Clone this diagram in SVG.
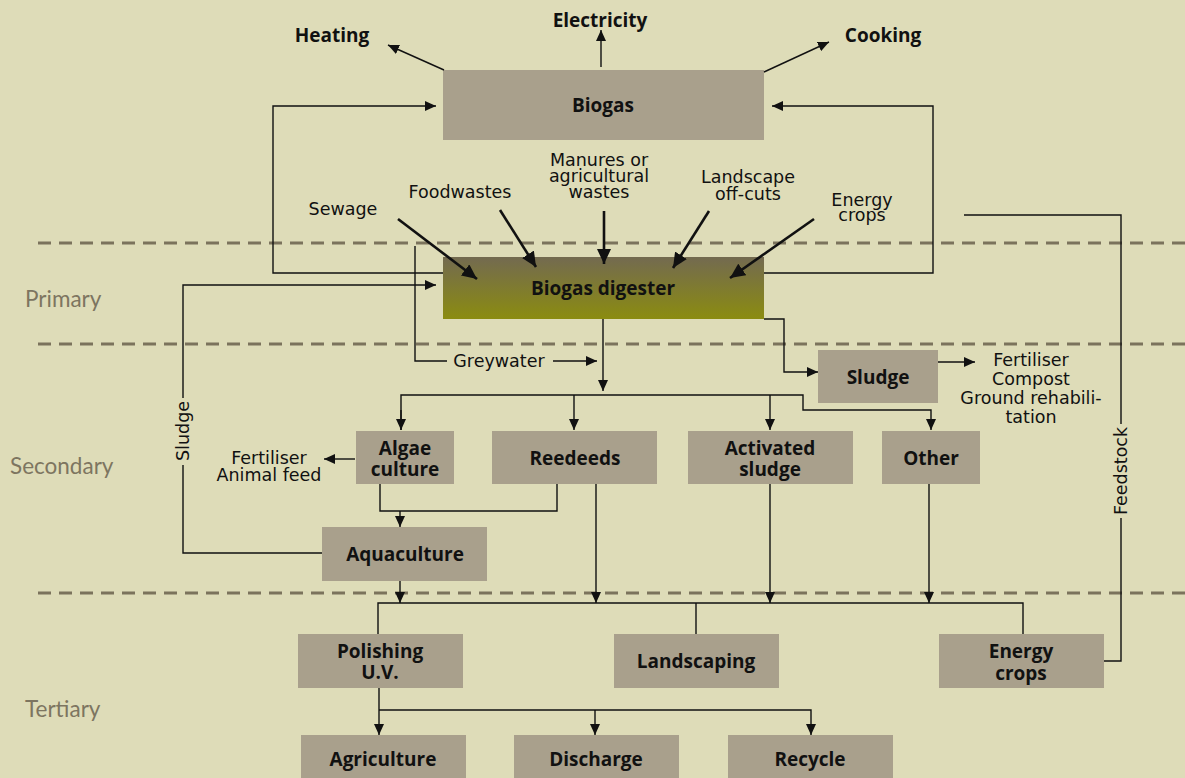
<svg xmlns="http://www.w3.org/2000/svg" width="1185" height="778" viewBox="0 0 1185 778">
<defs>
<style>
.bg{fill:#dedcb8}
.box{fill:#a9a08c}
.dash{stroke:#7b735c;stroke-width:3;stroke-dasharray:13 8;fill:none}
.ln{stroke:#111;stroke-width:1.4;fill:none}
.thick{stroke:#111;stroke-width:2.6;fill:none}
.bl{font-family:"Open Sans","DejaVu Sans",sans-serif;font-weight:bold;font-size:19px;fill:#111;text-anchor:middle}
.nl{font-family:"DejaVu Sans","Open Sans",sans-serif;font-size:17.5px;fill:#111;text-anchor:middle}
.zone{font-family:Lato,"Liberation Sans",sans-serif;font-size:22.5px;fill:#7d7560}
</style>
<linearGradient id="dig" x1="0" y1="0" x2="0" y2="1">
<stop offset="0" stop-color="#736a50"/>
<stop offset="1" stop-color="#8b8c10"/>
</linearGradient>
<marker id="ah" markerUnits="userSpaceOnUse" markerWidth="12" markerHeight="10" refX="11" refY="5" orient="auto">
<path d="M0,0 L11,5 L0,10 z" fill="#111"/>
</marker>
<marker id="ahb" markerUnits="userSpaceOnUse" markerWidth="16" markerHeight="14" refX="15" refY="7" orient="auto">
<path d="M0,0 L15,7 L0,14 z" fill="#111"/>
</marker>
</defs>
<rect class="bg" x="0" y="0" width="1185" height="778"/>

<g id="zones">
<path class="dash" d="M38,243 H1185 M38,344 H1185 M38,593 H1185"/>
<text class="zone" x="25" y="307">Primary</text>
<text class="zone" x="10" y="474">Secondary</text>
<text class="zone" x="25" y="717">Tertiary</text>
</g>

<g id="biogas"><rect class="box" x="443" y="70" width="321" height="70"/><text class="bl" x="603" y="112">Biogas</text></g>
<g id="digester"><rect x="443" y="257" width="321" height="62" fill="url(#dig)"/><text class="bl" x="603" y="295">Biogas digester</text></g>
<g id="sludge"><rect class="box" x="818" y="350" width="120" height="53"/><text class="bl" x="878" y="384">Sludge</text></g>
<g id="algae"><rect class="box" x="356" y="431" width="98" height="53"/><text class="bl" x="405" y="455">Algae</text><text class="bl" x="405" y="476">culture</text></g>
<g id="reedeeds"><rect class="box" x="492" y="431" width="165" height="53"/><text class="bl" x="575" y="465">Reedeeds</text></g>
<g id="activated"><rect class="box" x="688" y="431" width="165" height="53"/><text class="bl" x="770" y="455">Activated</text><text class="bl" x="770" y="476">sludge</text></g>
<g id="other"><rect class="box" x="882" y="431" width="98" height="53"/><text class="bl" x="931" y="465">Other</text></g>
<g id="aquaculture"><rect class="box" x="322" y="527" width="165" height="54"/><text class="bl" x="405" y="561">Aquaculture</text></g>
<g id="polishing"><rect class="box" x="298" y="634" width="165" height="54"/><text class="bl" x="380" y="658">Polishing</text><text class="bl" x="380" y="679">U.V.</text></g>
<g id="landscaping"><rect class="box" x="614" y="634" width="165" height="54"/><text class="bl" x="696" y="668">Landscaping</text></g>
<g id="energycrops"><rect class="box" x="939" y="634" width="165" height="54"/><text class="bl" x="1021" y="658">Energy</text><text class="bl" x="1021" y="680">crops</text></g>
<g id="agriculture"><rect class="box" x="301" y="735" width="165" height="50"/><text class="bl" x="383" y="766">Agriculture</text></g>
<g id="discharge"><rect class="box" x="514" y="735" width="165" height="50"/><text class="bl" x="596" y="766">Discharge</text></g>
<g id="recycle"><rect class="box" x="728" y="735" width="165" height="50"/><text class="bl" x="810" y="766">Recycle</text></g>

<g id="connectors">
<!-- biogas outputs -->
<line class="ln" x1="444" y1="70" x2="388" y2="45" marker-end="url(#ah)"/>
<line class="ln" x1="601" y1="67" x2="601" y2="30" marker-end="url(#ah)"/>
<line class="ln" x1="764" y1="72" x2="829" y2="42" marker-end="url(#ah)"/>
<!-- loops to biogas -->
<polyline class="ln" points="443,273 273,273 273,106 436,106" marker-end="url(#ah)"/>
<polyline class="ln" points="764,273 933,273 933,106 772,106" marker-end="url(#ah)"/>
<!-- inputs -->
<line class="thick" x1="398" y1="219" x2="477" y2="279" marker-end="url(#ahb)"/>
<line class="thick" x1="500" y1="210" x2="536" y2="267" marker-end="url(#ahb)"/>
<line class="thick" x1="604" y1="211" x2="604" y2="264" marker-end="url(#ahb)"/>
<line class="thick" x1="709" y1="211" x2="673" y2="268" marker-end="url(#ahb)"/>
<line class="thick" x1="814" y1="219" x2="730" y2="278" marker-end="url(#ahb)"/>
<!-- greywater -->
<polyline class="ln" points="415,246 415,361 447,361"/>
<line class="ln" x1="553" y1="361" x2="597" y2="361" marker-end="url(#ah)"/>
<line class="ln" x1="603" y1="319" x2="603" y2="391" marker-end="url(#ah)"/>
<!-- sludge from digester -->
<polyline class="ln" points="764,319 784,319 784,372 818,372" marker-end="url(#ah)"/>
<line class="ln" x1="938" y1="362" x2="975" y2="362" marker-end="url(#ah)"/>
<!-- secondary distribution -->
<polyline class="ln" points="401,430 401,395 803,395 803,410 931,410 931,430" marker-end="url(#ah)"/>
<line class="ln" x1="401" y1="410" x2="401" y2="430" marker-end="url(#ah)"/>
<line class="ln" x1="574" y1="395" x2="574" y2="430" marker-end="url(#ah)"/>
<line class="ln" x1="770" y1="395" x2="770" y2="430" marker-end="url(#ah)"/>
<!-- algae outputs -->
<line class="ln" x1="355" y1="459" x2="324" y2="459" marker-end="url(#ah)"/>
<polyline class="ln" points="380,484 380,511 557,511 557,484"/>
<line class="ln" x1="400" y1="511" x2="400" y2="527" marker-end="url(#ah)"/>
<!-- sludge loop from aquaculture -->
<polyline class="ln" points="322,553 183,553 183,465"/>
<polyline class="ln" points="183,398 183,285 436,285" marker-end="url(#ah)"/>
<text class="nl" transform="translate(189,431) rotate(-90)">Sludge</text>
<!-- secondary to tertiary -->
<line class="ln" x1="400" y1="581" x2="400" y2="603" marker-end="url(#ah)"/>
<line class="ln" x1="596" y1="484" x2="596" y2="603" marker-end="url(#ah)"/>
<line class="ln" x1="770" y1="484" x2="770" y2="603" marker-end="url(#ah)"/>
<line class="ln" x1="929" y1="484" x2="929" y2="603" marker-end="url(#ah)"/>
<polyline class="ln" points="378,634 378,603 1023,603 1023,634"/>
<line class="ln" x1="696" y1="603" x2="696" y2="634"/>
<!-- feedstock -->
<polyline class="ln" points="1104,661 1121,661 1121,518"/>
<polyline class="ln" points="1121,424 1121,215 964,215"/>
<text class="nl" transform="translate(1127,471) rotate(-90)">Feedstock</text>
<!-- polishing outputs -->
<polyline class="ln" points="379,688 379,735" marker-end="url(#ah)"/>
<polyline class="ln" points="379,710 811,710 811,735" marker-end="url(#ah)"/>
<line class="ln" x1="595" y1="710" x2="595" y2="735" marker-end="url(#ah)"/>
</g>

<g id="labels">
<text class="bl" x="332" y="42">Heating</text>
<text class="bl" x="600" y="27">Electricity</text>
<text class="bl" x="883" y="42">Cooking</text>
<text class="nl" x="343" y="215">Sewage</text>
<text class="nl" x="460" y="198">Foodwastes</text>
<text class="nl" x="599" y="166">Manures or</text>
<text class="nl" x="599" y="182">agricultural</text>
<text class="nl" x="599" y="198">wastes</text>
<text class="nl" x="748" y="183">Landscape</text>
<text class="nl" x="748" y="200">off-cuts</text>
<text class="nl" x="862" y="206">Energy</text>
<text class="nl" x="862" y="221">crops</text>
<text class="nl" x="499" y="367">Greywater</text>
<text class="nl" x="1031" y="366">Fertiliser</text>
<text class="nl" x="1031" y="385">Compost</text>
<text class="nl" x="1031" y="404">Ground rehabili-</text>
<text class="nl" x="1031" y="423">tation</text>
<text class="nl" x="269" y="464">Fertiliser</text>
<text class="nl" x="269" y="481">Animal feed</text>
</g>
</svg>
